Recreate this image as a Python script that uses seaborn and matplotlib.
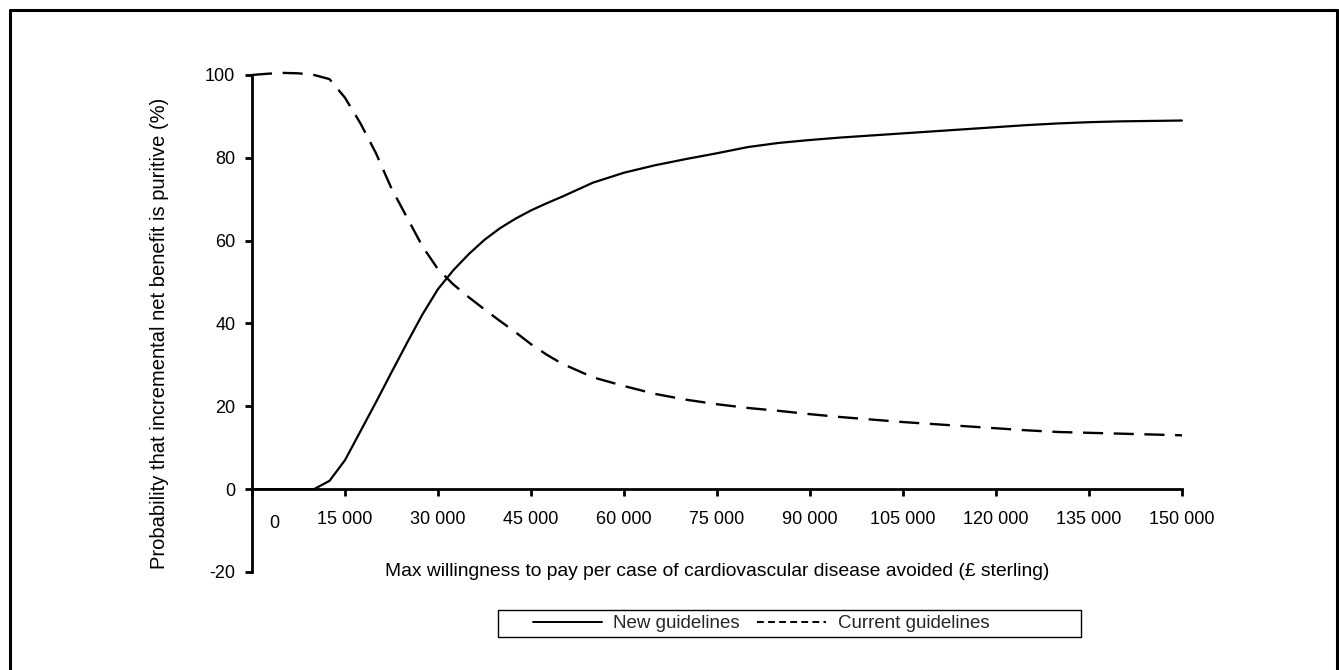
import matplotlib
matplotlib.use("Agg")
import matplotlib.pyplot as plt
import seaborn as sns
from matplotlib.lines import Line2D
from matplotlib.patches import Rectangle

# ---- data ----
wtp = [0, 2500, 5000, 7500, 10000, 12500, 15000, 17500, 20000, 22500, 25000,
       27500, 30000, 32500, 35000, 37500, 40000, 42500, 45000, 47500, 50000,
       55000, 60000, 65000, 70000, 75000, 80000, 85000, 90000, 95000, 100000,
       105000, 110000, 115000, 120000, 125000, 130000, 135000, 140000, 145000, 150000]
new_guidelines = [0, 0, 0, 0, 0, 2.0, 7.0, 14.0, 21.0, 28.2, 35.3,
                  42.2, 48.3, 52.9, 56.8, 60.2, 63.0, 65.3, 67.3, 69.0, 70.6,
                  74.0, 76.4, 78.2, 79.7, 81.1, 82.6, 83.6, 84.3, 84.9, 85.4,
                  85.9, 86.4, 86.9, 87.4, 87.9, 88.3, 88.6, 88.8, 88.9, 89.0]
current_guidelines = [100, 100.3, 100.5, 100.4, 100.0, 99.0, 94.5, 88.3, 81.1, 72.6, 65.6,
                      58.6, 53.1, 49.4, 46.3, 43.4, 40.6, 37.9, 35.0, 32.5, 30.3,
                      27.0, 24.9, 23.0, 21.6, 20.5, 19.6, 18.9, 18.1, 17.4, 16.8,
                      16.2, 15.7, 15.2, 14.7, 14.2, 13.8, 13.6, 13.4, 13.2, 13.0]
series_names = ["New guidelines", "Current guidelines"]
x_ticks = [0, 15000, 30000, 45000, 60000, 75000, 90000, 105000, 120000, 135000, 150000]
x_tick_labels = ["0", "15 000", "30 000", "45 000", "60 000", "75 000", "90 000",
                 "105 000", "120 000", "135 000", "150 000"]
y_ticks = [-20, 0, 20, 40, 60, 80, 100]
x_label = "Max willingness to pay per case of cardiovascular disease avoided (\u00a3 sterling)"
y_label = "Probability that incremental net benefit is puritive (%)"

# ---- style ----
sns.set_theme(style="ticks")
plt.rcParams["font.family"] = ["Liberation Sans", "DejaVu Sans"]
plt.rcParams["axes.unicode_minus"] = False

fig = plt.figure(figsize=(13.39, 6.70), dpi=100)
ax = fig.add_axes([0.1882, 0.1463, 0.6945, 0.7418])

sns.lineplot(x=wtp, y=new_guidelines, ax=ax, color="black", lw=1.6, linestyle="-",
             clip_on=False)
sns.lineplot(x=wtp, y=current_guidelines, ax=ax, color="black", lw=1.7,
             linestyle=(0, (8.5, 4.5)), clip_on=False)

ax.set_xlim(0, 150000)
ax.set_ylim(-20, 100)
for s in ("top", "right"):
    ax.spines[s].set_visible(False)
ax.spines["bottom"].set_position(("data", 0))
ax.spines["bottom"].set_linewidth(2.0)
ax.spines["left"].set_linewidth(2.0)
ax.spines["bottom"].set_color("black")
ax.spines["left"].set_color("black")

ax.set_xticks(x_ticks)
ax.set_xticklabels([""] + x_tick_labels[1:])
ax.set_yticks(y_ticks)
ax.set_yticklabels([str(v) for v in y_ticks])
ax.tick_params(axis="x", direction="out", length=5, width=2, pad=11,
               labelsize=13, colors="black")
ax.tick_params(axis="y", direction="out", length=5, width=2, pad=7,
               labelsize=13, colors="black")

# "0" label sits offset to the right of the y axis in the original
ax.annotate(x_tick_labels[0], xy=(x_ticks[0], 0), xycoords="data",
            xytext=(22 * 0.72, -34 * 0.72), textcoords="offset points",
            ha="center", va="center", fontsize=13, color="black")

ax.set_xlabel(x_label, fontsize=13.9, color="black")
ax.xaxis.set_label_coords(0.5, 0.0)
ax.xaxis.label.set_va("center")

ax.set_ylabel(y_label, fontsize=14.5, color="black")
ax.yaxis.set_label_coords(-0.099, 0.48)
ax.yaxis.label.set_va("center")
ax.yaxis.label.set_ha("center")
ax.yaxis.label.set_rotation_mode("default")

# ---- legend ----
handles = [Line2D([0], [0], color="black", lw=1.4, linestyle="-"),
           Line2D([0], [0], color="black", lw=1.4, linestyle=(0, (3.5, 2.2)))]
fig.legend(handles, series_names, loc="center", bbox_to_anchor=(0.5683, 0.0694),
           ncol=2, frameon=False, fontsize=13.5, handlelength=3.7,
           handletextpad=0.6, columnspacing=0.9)
fig.patches.append(Rectangle((498 / 1339, 1 - 637 / 670), 583 / 1339, 27 / 670,
                             transform=fig.transFigure, fill=False,
                             edgecolor="black", lw=1.0))

# ---- outer frame ----
fx0, fx1 = 10 / 1339, 1337 / 1339
fy_top = 1 - 10 / 670
for xs, ys in [((fx0, fx0), (0, fy_top)), ((fx0, fx1), (fy_top, fy_top)),
               ((fx1, fx1), (fy_top, 0))]:
    fig.add_artist(Line2D(xs, ys, transform=fig.transFigure, color="black", lw=2.2))

fig.savefig("out.png", dpi=100)
